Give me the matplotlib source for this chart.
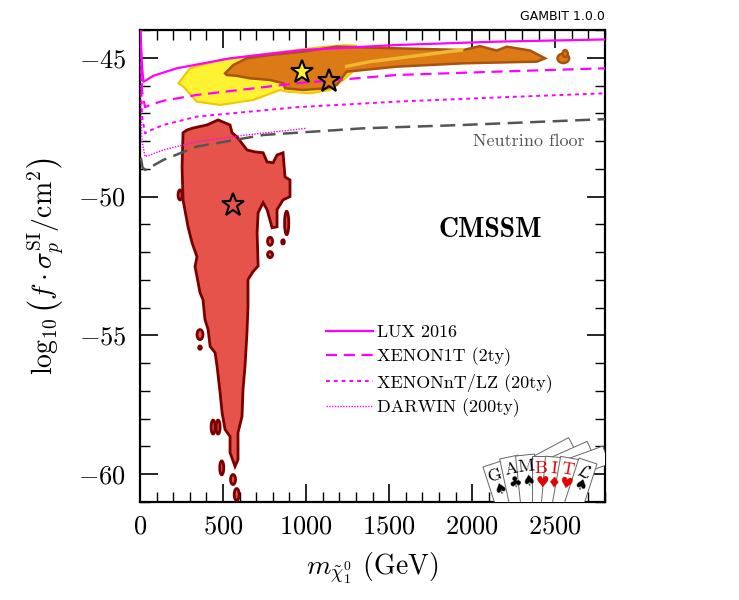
import numpy as np
import matplotlib
matplotlib.use("Agg")
import matplotlib.pyplot as plt
from matplotlib.patches import Polygon, Ellipse
from matplotlib.ticker import MultipleLocator

plt.rcParams['font.family'] = 'serif'
plt.rcParams['font.serif'] = ['cmr10']
plt.rcParams['mathtext.fontset'] = 'cm'
plt.rcParams['axes.formatter.use_mathtext'] = True

# ---- experimental limit curves: (mass GeV, log10 sigma)
lux_m = [2, 12, 20, 40, 80, 221, 542, 983, 1546, 2148, 2800]
lux_s = [-44.0, -45.3, -45.86, -45.8, -45.65, -45.38, -45.02, -44.72, -44.54, -44.42, -44.34]

x1t_m = [2, 12, 30, 60, 140, 341, 943, 1546, 2148, 2800]
x1t_s = [-44.0, -46.2, -46.78, -46.7, -46.55, -46.34, -45.92, -45.62, -45.5, -45.38]

xnt_m = [2, 12, 30, 60, 140, 341, 943, 1546, 2148, 2800]
xnt_s = [-44.3, -47.1, -47.72, -47.62, -47.42, -47.12, -46.78, -46.58, -46.43, -46.28]

darwin_m = [2, 12, 30, 60, 140, 341, 642, 1004]
darwin_s = [-46.0, -48.0, -48.56, -48.5, -48.32, -48.02, -47.78, -47.54]

nu_m = [5, 15, 30, 60, 140, 341, 743, 1345, 1947, 2800]
nu_s = [-48.6, -48.95, -49.04, -48.95, -48.68, -48.2, -47.78, -47.54, -47.42, -47.21]

# ---- profile likelihood regions (outlines)
yellow_m = [231, 301, 482, 783, 1084, 1224, 1300, 1300, 1224, 1144, 1024, 883, 843, 682, 482, 341, 261]
yellow_s = [-45.92, -45.38, -45.08, -44.84, -44.62, -44.55, -44.56, -45.4, -45.8, -46.16, -46.28, -46.22, -46.16, -46.52, -46.7, -46.58, -46.04]

band_m = [1234, 1385, 1626, 1847, 1947, 1947, 1847, 1626, 1385, 1234]
band_s = [-45.26, -45.08, -44.9, -44.72, -44.65, -44.78, -44.85, -45.02, -45.2, -45.38]

orange_m = [512, 562, 642, 783, 983, 1184, 1546, 1947, 2047, 2148, 2208, 2349, 2439,
            2389, 1947, 1546, 1245, 1214, 1184, 1124, 983, 873, 863, 783, 662, 582, 522]
orange_s = [-45.56, -45.26, -45.02, -44.9, -44.78, -44.6, -44.66, -44.72, -44.58, -44.74, -44.6, -44.74, -45.02,
            -45.14, -45.2, -45.32, -45.5, -45.74, -45.98, -46.1, -46.16, -46.1, -45.92, -45.8, -45.74, -45.65, -45.62]

red_m = [259, 283, 319, 403, 470, 542, 554, 584, 644, 693, 741, 765, 801, 825, 861, 873, 903, 903, 861,
         825, 825, 795, 765, 741, 711, 705, 711, 681, 650, 650, 644, 632, 620, 614, 590, 590, 572, 542,
         542, 512, 494, 482, 464, 452, 422, 410, 391, 379, 361, 343, 331, 343, 313, 289, 259, 253]
red_s = [-47.7, -47.6, -47.53, -47.42, -47.24, -47.42, -47.7, -47.85, -48.32, -48.39, -48.42, -48.75, -48.78,
         -48.5, -48.42, -49.29, -49.4, -50.0, -50.12, -50.47, -51.09, -51.12, -50.47, -50.22, -50.58, -51.3,
         -52.5, -52.7, -52.99, -53.96, -54.9, -56.12, -56.95, -57.92, -58.5, -59.47, -59.72, -59.22, -58.64,
         -58.39, -57.78, -57.06, -56.12, -55.62, -55.4, -54.79, -54.43, -53.71, -53.46, -52.88, -52.52,
         -52.17, -51.66, -51.09, -50.12, -48.93]

# small islands: centre mass, centre log sigma, width, height
red_isl_m = [241, 883, 861, 783, 783, 361, 361, 440, 470, 492, 560, 582]
red_isl_s = [-49.94, -50.95, -51.63, -51.61, -52.09, -54.97, -55.44, -58.3, -58.3, -59.77, -60.19, -60.73]
red_isl_w = [24, 25, 16, 30, 30, 36, 16, 24, 24, 24, 30, 30]
red_isl_h = [0.36, 0.84, 0.15, 0.29, 0.22, 0.36, 0.12, 0.5, 0.5, 0.5, 0.36, 0.43]

orange_isl_m = [2549, 2560]
orange_isl_s = [-45.02, -44.85]
orange_isl_w = [70, 30]
orange_isl_h = [0.34, 0.25]

# best fit points
star_m = [974, 1140, 562]
star_s = [-45.5, -45.82, -50.29]
star_c = ['#FFF233', '#DC7A16', '#E5534B']

RED, RED_E = '#E5534B', '#7A0000'
ORA, ORA_E = '#DC7A16', '#A9520E'
YEL, YEL_E = '#FFF233', '#F0C800'
MAG = '#FF00FF'

fig = plt.figure(figsize=(7.39, 6.0), dpi=100)
ax = fig.add_axes([0.1895, 0.1633, 0.6292, 0.7867])

ax.add_patch(Polygon(np.column_stack([yellow_m, yellow_s]), closed=True,
                     fc=YEL, ec=YEL_E, lw=1.5, zorder=2))
ax.add_patch(Polygon(np.column_stack([orange_m, orange_s]), closed=True,
                     fc=ORA, ec=ORA_E, lw=1.8, zorder=3))
ax.add_patch(Polygon(np.column_stack([band_m, band_s]), closed=True,
                     fc='#F0B830', ec='none', lw=0, zorder=3.5))
for m, s, w, h in zip(orange_isl_m, orange_isl_s, orange_isl_w, orange_isl_h):
    ax.add_patch(Ellipse((m, s), w, h, fc=ORA, ec=ORA_E, lw=1.8, zorder=3))
ax.add_patch(Polygon(np.column_stack([red_m, red_s]), closed=True,
                     fc=RED, ec=RED_E, lw=2.0, zorder=3))
for m, s, w, h in zip(red_isl_m, red_isl_s, red_isl_w, red_isl_h):
    ax.add_patch(Ellipse((m, s), w, h, fc=RED, ec=RED_E, lw=2.0, zorder=3))

ax.plot(lux_m, lux_s, color=MAG, lw=1.6, label='LUX 2016', zorder=5)
ax.plot(x1t_m, x1t_s, color=MAG, lw=1.6, ls=(0, (5, 3)), label='XENON1T (2ty)', zorder=5)
ax.plot(xnt_m, xnt_s, color=MAG, lw=1.4, ls=(0, (2, 2)), label='XENONnT/LZ (20ty)', zorder=5)
ax.plot(darwin_m, darwin_s, color=MAG, lw=1.0, ls=(0, (1, 1)), label='DARWIN (200ty)', zorder=5)
ax.plot(nu_m, nu_s, color='#555555', lw=1.8, ls=(0, (6, 3)), zorder=5)

for m, s, c in zip(star_m, star_s, star_c):
    ax.plot(m, s, marker='*', ms=17, mfc=c, mec='black', mew=1.5, ls='none', zorder=6)

ax.text(2680, -48.02, 'Neutrino floor', color='#555555', fontsize=13, ha='right', va='center')
ax.text(2110, -51.2, 'CMSSM', fontfamily='cmb10', fontsize=20, ha='center', va='center')

leg = ax.legend(loc='upper left', bbox_to_anchor=(0.365, 0.41), frameon=False, fontsize=13,
                handlelength=2.6, handletextpad=0.2, labelspacing=0.38)

ax.set_xlim(0, 2800)
ax.set_ylim(-61, -44)
ax.xaxis.set_major_locator(MultipleLocator(500))
ax.xaxis.set_minor_locator(MultipleLocator(100))
ax.yaxis.set_major_locator(MultipleLocator(5))
ax.yaxis.set_minor_locator(MultipleLocator(1))
ax.tick_params(which='both', direction='in', top=True, right=True, labelsize=19)
ax.tick_params(which='major', length=13, width=1.2)
ax.tick_params(which='minor', length=7, width=1.0)
ax.tick_params(axis='x', which='major', pad=9)
ax.tick_params(axis='y', which='major', pad=10)
for sp in ax.spines.values():
    sp.set_linewidth(1.6)

ax.set_xlabel(r'$m_{\tilde\chi_1^0}$ (GeV)', fontsize=20, labelpad=9)
ax.set_ylabel(r'$\log_{10}\left(f\cdot\sigma_p^{\rm SI}/{\rm cm}^2\right)$', fontsize=20, labelpad=9)

fig.text(0.8187, 0.962, 'GAMBIT 1.0.0', fontfamily='DejaVu Sans', fontsize=9, ha='right', va='bottom')

# ---- GAMBIT card logo
letters = ['G', 'A', 'M', 'B', 'I', 'T', r'$\mathcal{L}$']
suits = ['\u2660', '\u2663', '\u2660', '\u2665', '\u2666', '\u2665', '\u2660']
card_col = ['black', 'black', 'black', '#E00000', '#E00000', '#E00000', 'black']
card_x = [14, 31, 47, 63, 77, 92, 110]
card_y = [38, 45, 47, 46, 45, 44, 41]
card_a = [18, 12, 6, 0, -5, -10, -18]
back_x = [95, 113, 128]
back_y = [56, 52, 47]
back_a = [-62, -66, -70]

lg = fig.add_axes([478 / 739, 0.1633, 127 / 739, 77 / 600], zorder=4)
lg.set_xlim(0, 127)
lg.set_ylim(0, 77)
lg.axis('off')


def card(cx, cy, ang, w=19, h=64):
    t = np.radians(ang)
    R = np.array([[np.cos(t), -np.sin(t)], [np.sin(t), np.cos(t)]])
    pts = np.array([[-w / 2, 0], [w / 2, 0], [w / 2, -h], [-w / 2, -h]]) @ R.T + [cx, cy]
    lg.add_patch(Polygon(pts, closed=True, fc='white', ec='#666666', lw=0.7))
    return R


for cx, cy, a in zip(back_x, back_y, back_a):
    card(cx, cy, a)
for cx, cy, a, l, s, c in zip(card_x, card_y, card_a, letters, suits, card_col):
    R = card(cx, cy, a)
    p1 = R @ [0, -12] + [cx, cy]
    p2 = R @ [1, -26] + [cx, cy]
    lg.text(p1[0], p1[1], l, color=c, fontsize=13, rotation=a, ha='center', va='center')
    lg.text(p2[0], p2[1], s, color=c, fontsize=11, rotation=a, ha='center', va='center',
            fontfamily='DejaVu Sans')

fig.savefig('out.png', dpi=100)
